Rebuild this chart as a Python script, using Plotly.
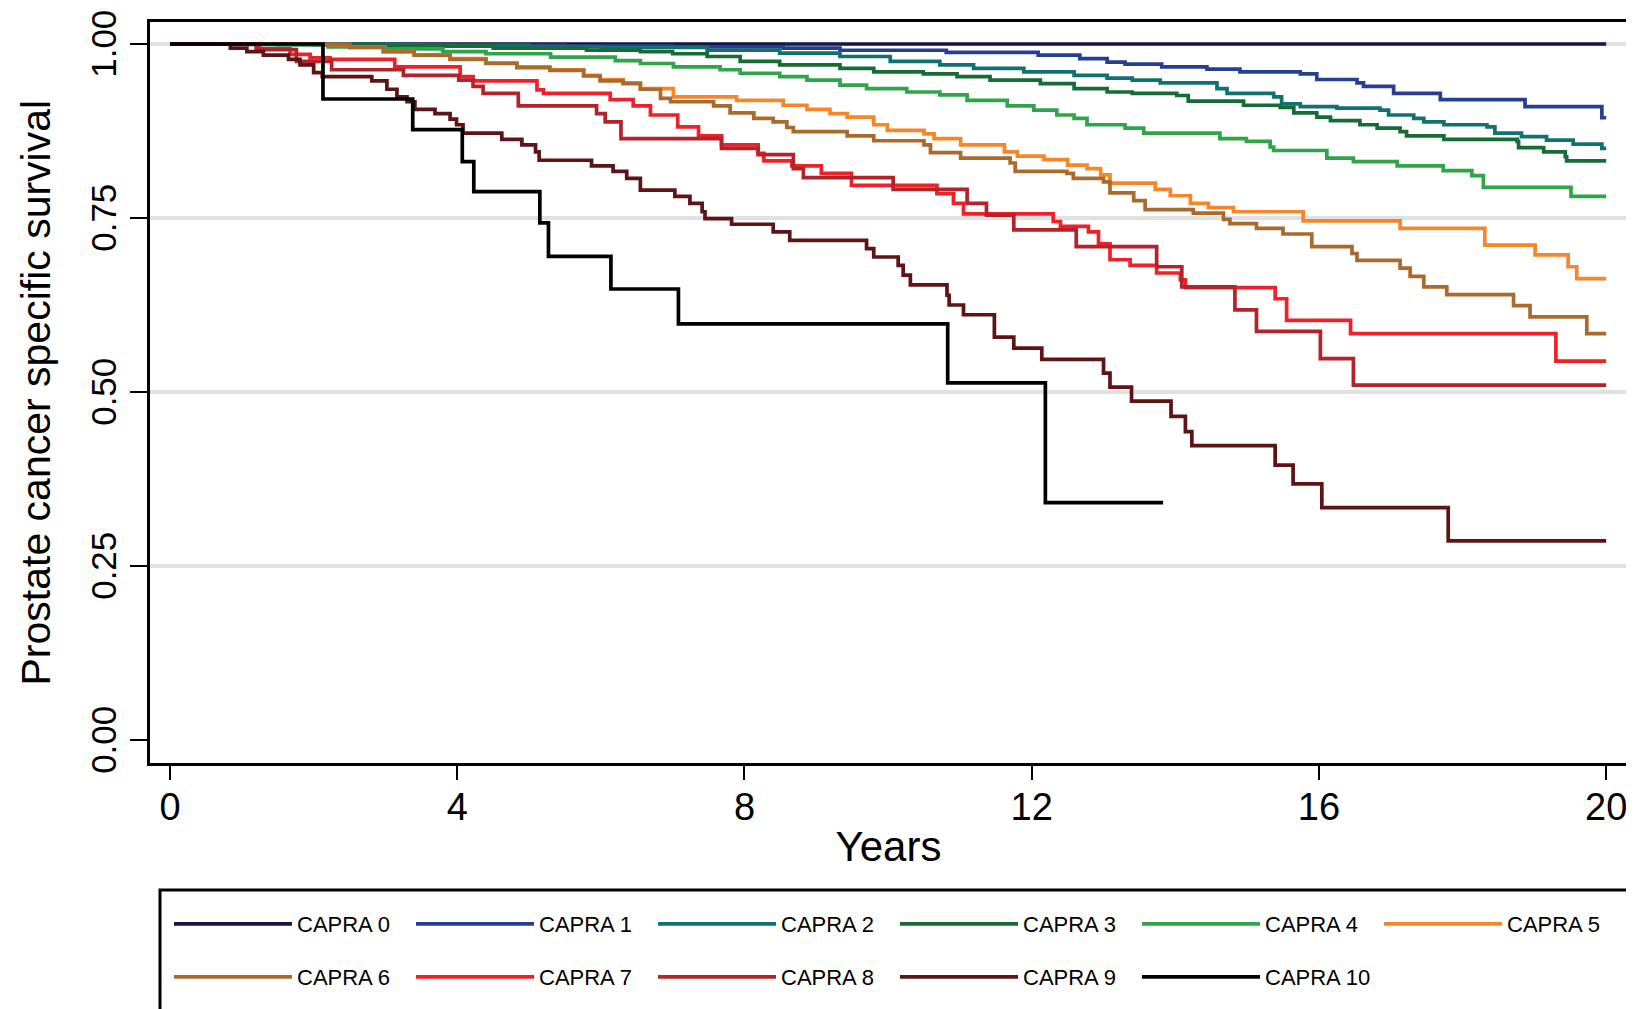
import plotly.graph_objects as go

# ---- data ----
names = ["CAPRA 0", "CAPRA 1", "CAPRA 2", "CAPRA 3", "CAPRA 4", "CAPRA 5",
         "CAPRA 6", "CAPRA 7", "CAPRA 8", "CAPRA 9", "CAPRA 10"]
colors = ["#151846", "#273f92", "#117170", "#176c36", "#2fa449", "#f5872a",
          "#a96a2c", "#ee2128", "#b3232a", "#5e1315", "#000000"]

t0 = [0, 20]
s0 = [1.0, 1.0]

t1 = [0, 2.5, 4.0, 5.5, 7.0, 8.54, 9.33, 10.81, 12.09, 12.67, 13.05, 13.3, 13.81, 14.44, 14.90,
      15.74, 15.97, 16.53, 16.62, 17.04, 17.69, 18.87, 19.94, 20]
s1 = [1.0, 0.999, 0.998, 0.997, 0.996, 0.994, 0.991, 0.988, 0.984, 0.979, 0.974, 0.971, 0.967, 0.964, 0.960,
      0.957, 0.949, 0.944, 0.939, 0.929, 0.920, 0.910, 0.894, 0.894]

t2 = [0, 2.0, 3.5, 5.0, 6.0, 7.48, 8.49, 9.33, 10.03, 10.72, 11.19, 11.89, 12.59, 13.05, 13.4, 13.79,
      14.58, 14.72, 15.37, 15.48, 15.74, 16.25, 16.85, 16.97, 17.32, 17.46, 17.74, 18.34, 18.45,
      18.82, 19.17, 19.54, 19.94, 20]
s2 = [1.0, 0.999, 0.998, 0.996, 0.995, 0.991, 0.987, 0.982, 0.975, 0.970, 0.965, 0.960, 0.955, 0.951, 0.948, 0.944,
      0.936, 0.929, 0.924, 0.914, 0.910, 0.908, 0.905, 0.898, 0.893, 0.888, 0.884, 0.881, 0.872,
      0.867, 0.862, 0.856, 0.850, 0.850]

t3 = [0, 1.5, 3.0, 4.5, 5.8, 6.55, 7.0, 7.48, 7.94, 8.49, 9.33, 9.80, 10.49, 10.96, 11.42, 12.12,
      12.59, 13.05, 13.4, 14.02, 14.18, 14.95, 15.46, 15.65, 15.97, 16.16, 16.57, 16.81, 17.13,
      17.22, 17.74, 18.76, 18.78, 19.13, 19.43, 19.45, 20]
s3 = [1.0, 0.999, 0.997, 0.994, 0.991, 0.989, 0.986, 0.982, 0.975, 0.970, 0.965, 0.960, 0.957, 0.953, 0.948, 0.943,
      0.936, 0.931, 0.929, 0.926, 0.918, 0.912, 0.909, 0.901, 0.895, 0.890, 0.884, 0.879, 0.874,
      0.868, 0.863, 0.860, 0.851, 0.845, 0.838, 0.832, 0.832]

t4 = [0, 1.1, 2.2, 3.0, 3.8, 4.4, 5.3, 6.2, 6.55, 7.01, 7.66, 7.94, 8.49, 8.87, 9.33, 9.70, 10.26,
      10.72, 11.10, 11.66, 12.03, 12.35, 12.59, 12.77, 13.3, 13.56, 14.62, 14.99, 15.32, 15.37,
      16.11, 16.48, 17.09, 17.73, 18.13, 18.29, 19.51, 20]
s4 = [1.0, 0.999, 0.996, 0.993, 0.989, 0.986, 0.981, 0.976, 0.972, 0.967, 0.963, 0.958, 0.953, 0.948, 0.941, 0.936, 0.931,
      0.927, 0.919, 0.911, 0.905, 0.898, 0.893, 0.884, 0.879, 0.872, 0.864, 0.860, 0.852, 0.847,
      0.836, 0.831, 0.825, 0.818, 0.811, 0.794, 0.781, 0.781]

t5 = [0, 2.13, 2.5, 2.97, 3.4, 3.9, 4.4, 4.83, 5.29, 5.76, 5.99, 6.31, 6.55, 7.01, 7.89, 8.54, 8.87,
      9.19, 9.43, 9.80, 9.99, 10.50, 10.64, 11.01, 11.62, 11.80, 12.17, 12.50, 12.77, 12.96, 13.09,
      13.72, 13.93, 14.21, 14.46, 14.81, 15.78, 17.13, 18.31, 19.01, 19.47, 19.59, 20]
s5 = [1.0, 0.999, 0.995, 0.989, 0.984, 0.979, 0.973, 0.967, 0.963, 0.955, 0.949, 0.944, 0.936, 0.924, 0.919, 0.912, 0.906,
      0.900, 0.895, 0.884, 0.876, 0.871, 0.864, 0.855, 0.845, 0.839, 0.834, 0.826, 0.821, 0.812, 0.800,
      0.791, 0.782, 0.771, 0.765, 0.759, 0.746, 0.735, 0.711, 0.697, 0.680, 0.663, 0.663]

t6 = [0, 2.13, 2.5, 2.97, 3.4, 3.9, 4.4, 4.83, 5.29, 5.76, 5.99, 6.31, 6.55, 6.83, 6.97, 7.57, 7.80,
      8.13, 8.40, 8.59, 8.68, 9.43, 9.80, 10.50, 10.59, 11.01, 11.70, 11.77, 12.49, 12.58, 13.00,
      13.09, 13.42, 13.58, 14.25, 14.67, 14.76, 15.13, 15.50, 15.90, 16.46, 16.53, 17.13, 17.27,
      17.46, 17.78, 18.71, 18.94, 19.73, 20]
s6 = [1.0, 0.999, 0.995, 0.989, 0.984, 0.978, 0.972, 0.966, 0.962, 0.954, 0.947, 0.943, 0.935, 0.922, 0.917, 0.911, 0.901,
      0.893, 0.888, 0.880, 0.874, 0.868, 0.861, 0.855, 0.844, 0.836, 0.829, 0.817, 0.814, 0.807, 0.802,
      0.786, 0.775, 0.762, 0.757, 0.748, 0.742, 0.735, 0.727, 0.709, 0.699, 0.689, 0.678, 0.666,
      0.651, 0.640, 0.624, 0.608, 0.584, 0.584]

t7 = [0, 1.25, 1.67, 1.95, 2.23, 3.13, 4.04, 4.22, 5.11, 5.2, 6.13, 6.45, 6.69, 7.07, 7.36, 7.68,
      8.19, 8.27, 8.66, 9.07, 9.49, 10.68, 10.91, 11.05, 12.30, 12.40, 12.79, 12.93, 13.09, 13.37,
      13.74, 14.07, 14.14, 15.39, 15.55, 16.44, 19.30, 20]
s7 = [1.0, 0.993, 0.985, 0.980, 0.978, 0.967, 0.953, 0.947, 0.934, 0.929, 0.920, 0.911, 0.898, 0.881, 0.868, 0.855,
      0.843, 0.832, 0.825, 0.814, 0.797, 0.785, 0.771, 0.756, 0.745, 0.738, 0.730, 0.713, 0.690, 0.682,
      0.671, 0.661, 0.650, 0.634, 0.603, 0.584, 0.5445, 0.5445]

t8 = [0, 1.2, 1.76, 2.25, 3.25, 4.02, 4.22, 4.36, 4.85, 5.94, 6.06, 6.28, 7.68, 8.19, 8.68, 8.82,
      10.07, 11.10, 11.37, 11.75, 12.62, 13.74, 14.09, 14.83, 15.13, 16.02, 16.48, 20]
s8 = [1.0, 0.992, 0.975, 0.963, 0.955, 0.948, 0.939, 0.929, 0.911, 0.900, 0.888, 0.864, 0.850, 0.841, 0.821, 0.808,
      0.791, 0.771, 0.754, 0.733, 0.709, 0.680, 0.651, 0.618, 0.587, 0.548, 0.510, 0.510]

t9 = [0, 0.84, 1.07, 1.3, 1.65, 1.81, 2.0, 2.12, 2.81, 3.02, 3.16, 3.30, 3.41, 3.69, 3.9, 3.99, 4.08,
      4.62, 4.90, 5.09, 5.14, 5.87, 6.17, 6.36, 6.55, 7.03, 7.24, 7.41, 7.45, 7.82, 8.40, 8.63, 9.70,
      9.80, 10.14, 10.21, 10.31, 10.82, 10.85, 11.05, 11.48, 11.75, 12.14, 13.0, 13.09, 13.39,
      13.94, 14.14, 14.23, 15.39, 15.64, 16.04, 17.80, 20]
s9 = [1.0, 0.994, 0.989, 0.984, 0.978, 0.970, 0.959, 0.953, 0.947, 0.935, 0.924, 0.917, 0.906, 0.900, 0.892, 0.884, 0.872,
      0.863, 0.855, 0.845, 0.833, 0.825, 0.817, 0.807, 0.790, 0.781, 0.771, 0.759, 0.749, 0.741, 0.730, 0.718, 0.706,
      0.694, 0.682, 0.668, 0.654, 0.639, 0.625, 0.611, 0.579, 0.563, 0.547, 0.527, 0.507, 0.487,
      0.465, 0.443, 0.423, 0.395, 0.368, 0.334, 0.286, 0.286]

t10 = [0, 2.13, 3.38, 4.07, 4.23, 5.15, 5.27, 6.14, 7.08, 10.83, 12.19, 13.83]
s10 = [1.0, 0.921, 0.877, 0.831, 0.788, 0.743, 0.695, 0.648, 0.598, 0.513, 0.341, 0.341]

times = [t0, t1, t2, t3, t4, t5, t6, t7, t8, t9, t10]
survs = [s0, s1, s2, s3, s4, s5, s6, s7, s8, s9, s10]

x_ticks = [0, 4, 8, 12, 16, 20]
y_ticks = [0, 0.25, 0.5, 0.75, 1.0]
y_ticklabels = ["0.00", "0.25", "0.50", "0.75", "1.00"]
grid_vals = [0.25, 0.5, 0.75, 1.0]
x_title = "Years"
y_title = "Prostate cancer specific survival"

FONT = "Liberation Sans, Arial, Helvetica, sans-serif"

fig = go.Figure()
for i, (nm, col, t, s) in enumerate(zip(names, colors, times, survs)):
    fig.add_trace(go.Scatter(
        x=t, y=s, mode="lines", name=nm,
        line=dict(color=col, width=3.7, shape="hv"),
        legend="legend" if i < 6 else "legend2",
    ))

# invisible trace carrying the grid axis
fig.add_trace(go.Scatter(x=[None], y=[None], yaxis="y2", showlegend=False, hoverinfo="skip"))

# page has an 8px body margin; figure placed at (8, 8)
OFF = 8
W, H = 1634 - OFF, 1009 - OFF
PL, PR, PT, PB = 150, 1627, 22, 763          # plot frame in page pixels
ml, mr, mt, mb = PL - OFF, (OFF + W) - PR, PT - OFF, (OFF + H) - PB
pw, ph = PR - PL, PB - PT


def px_x(p):
    return (p - PL) / pw


def px_y(p):
    return (PB - p) / ph


leg_common = dict(orientation="h", xanchor="left", yanchor="top",
                  font=dict(size=22, family=FONT), itemwidth=118, entrywidth=109,
                  bgcolor="rgba(0,0,0,0)", borderwidth=0, traceorder="normal")

fig.update_layout(
    width=W, height=H,
    margin=dict(l=ml, r=mr, t=mt, b=mb, pad=0, autoexpand=False),
    paper_bgcolor="white", plot_bgcolor="rgba(0,0,0,0)",
    font=dict(family=FONT, color="black"),
    xaxis=dict(range=[-0.279, 20.29], tickvals=x_ticks, ticks="outside", ticklen=14,
               tickwidth=2, tickcolor="black", showline=True, linewidth=3, linecolor="black",
               mirror=True, showgrid=False, zeroline=False, ticklabelstandoff=-6,
               automargin=False,
               tickfont=dict(size=38, family=FONT),
               title=dict(text=x_title, font=dict(size=42, family=FONT), standoff=6)),
    yaxis=dict(range=[-0.033, 1.0316], tickvals=y_ticks, ticktext=y_ticklabels,
               tickangle=-90, ticks="outside", ticklen=17, tickwidth=2, tickcolor="black",
               showline=True, linewidth=3, linecolor="black", mirror=True,
               showgrid=False, zeroline=False, ticklabeloverflow="allow",
               ticklabelshift=5, automargin=False,
               tickfont=dict(size=35, family=FONT)),
    yaxis2=dict(range=[-0.033, 1.0316], overlaying="y", tickvals=grid_vals,
                showticklabels=False, ticks="", showgrid=True, gridcolor="#e1e1e1",
                gridwidth=4, zeroline=False, showline=False, layer="below traces",
                automargin=False),
    legend=dict(x=px_x(169), y=px_y(903), **leg_common),
    legend2=dict(x=px_x(169), y=px_y(956), **leg_common),
    annotations=[dict(text=y_title, textangle=-90, xref="paper", yref="paper",
                      x=px_x(35), y=0.5, xanchor="center", yanchor="middle",
                      showarrow=False, font=dict(size=41, family=FONT, color="black"))],
    shapes=[dict(type="rect", xref="paper", yref="paper",
                 x0=px_x(160), x1=px_x(1660), y0=px_y(1030), y1=px_y(890),
                 line=dict(color="black", width=3), fillcolor="rgba(0,0,0,0)")],
    showlegend=True,
)

fig.write_html("out.html")
